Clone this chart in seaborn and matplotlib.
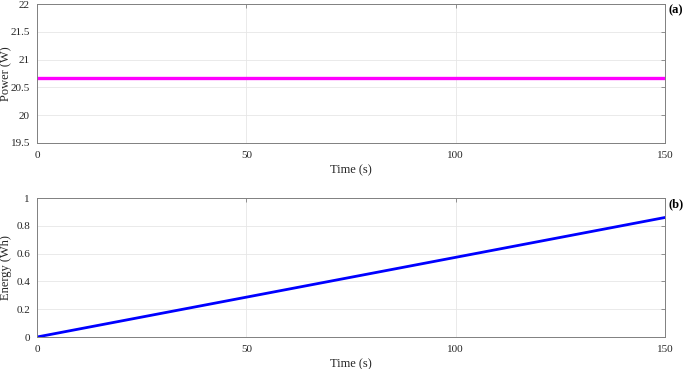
import matplotlib
matplotlib.use("Agg")
import matplotlib.pyplot as plt
import seaborn as sns
import pandas as pd

time_s = [0, 150]
power_w = [20.67, 20.67]
energy_wh = [0.0, 0.86]

x_ticks = [0, 50, 100, 150]
power_ticks = [19.5, 20, 20.5, 21, 21.5, 22]
power_ticklabels = ["19.5", "20", "20.5", "21", "21.5", "22"]
energy_ticks = [0, 0.2, 0.4, 0.6, 0.8, 1]
energy_ticklabels = ["0", "0.2", "0.4", "0.6", "0.8", "1"]

sns.set_style("white")
plt.rcParams["font.family"] = ["Liberation Serif", "DejaVu Serif"]
plt.rcParams["font.size"] = 9

fig = plt.figure(figsize=(6.85, 3.69), dpi=100)
ax1 = fig.add_axes([0.054, 0.6125, 0.917, 0.3765])
ax2 = fig.add_axes([0.054, 0.0867, 0.917, 0.3767])

df1 = pd.DataFrame({"t": time_s, "p": power_w})
df2 = pd.DataFrame({"t": time_s, "e": energy_wh})
sns.lineplot(data=df1, x="t", y="p", ax=ax1, color="#ff00ff", linewidth=2.4)
sns.lineplot(data=df2, x="t", y="e", ax=ax2, color="#0000ff", linewidth=2.0)

for ax, yt, ytl, ylab, tag in [
    (ax1, power_ticks, power_ticklabels, "Power (W)", "(a)"),
    (ax2, energy_ticks, energy_ticklabels, "Energy (Wh)", "(b)"),
]:
    ax.set_xlim(0, 150)
    ax.set_ylim(yt[0], yt[-1])
    ax.set_xticks(x_ticks)
    ax.set_xticklabels([str(v) for v in x_ticks])
    ax.set_yticks(yt)
    ax.set_yticklabels(ytl)
    ax.grid(True, color="#e6e6e6", linewidth=0.6)
    ax.set_axisbelow(True)
    for s in ax.spines.values():
        s.set_color("#808080")
        s.set_linewidth(0.7)
    ax.tick_params(direction="in", length=3, width=0.6, color="#808080",
                   top=True, right=True, labelcolor="#262626", labelsize=8)
    ax.tick_params(axis="y", pad=5)
    ax.tick_params(axis="x", pad=6)
    ax.set_xlabel("Time (s)", fontsize=9, color="#262626", labelpad=3)
    ax.set_ylabel(ylab, fontsize=9, color="#262626")
    ax.yaxis.set_label_coords(-0.040, 0.5)
    ax.text(1.005, 1.0, tag, transform=ax.transAxes, fontsize=9,
            fontweight="bold", ha="left", va="top", color="black")

fig.savefig("out.png", dpi=100)
